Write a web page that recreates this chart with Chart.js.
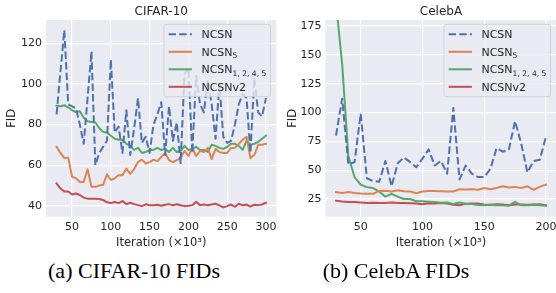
<!DOCTYPE html>
<html><head><meta charset="utf-8">
<script src="https://cdn.jsdelivr.net/npm/chart.js@4.4.1/dist/chart.umd.min.js"></script>
<style>
html,body{margin:0;padding:0;width:556px;height:293px;overflow:hidden;background:#fff;}
canvas{position:absolute;top:0;}
#c1{left:0;}
#c2{left:276px;}
.cap{position:absolute;top:260px;font-family:"Liberation Serif","Times New Roman",serif;font-size:22px;line-height:22px;color:#000;white-space:nowrap;transform:translateX(-50%);}
</style></head><body>
<canvas id="c1" width="280" height="250"></canvas>
<canvas id="c2" width="284" height="250"></canvas>
<div class="cap" style="left:134px">(a) CIFAR-10 FIDs</div>
<div class="cap" style="left:396px">(b) CelebA FIDs</div>
<script>
// ---------- data ----------
const cifarIter = [30,35,40,45,50,55,60,65,70,75,80,85,90,95,100,105,110,115,120,125,130,135,140,145,150,155,160,165,170,175,180,185,190,195,200,205,210,215,220,225,230,235,240,245,250,255,260,265,270,275,280,285,290,295,300];
const cifarNCSN = [85,106,126.5,90,89,88,80,70.5,93,116, 60,66,69,72,112,76,79,66,87,65, 78,93,71,74,66,80,85,91,65,89, 72,81,61,105,108,66,104,90,86,102, 90,73,100,74,71,72,80,90,95,93, 66,103,86,84,93];
const cifarNCSN5 = [69,66,63.5,63.7,54.3,53.5,51.7,51.7,58,49.4, 49.3,50,50.3,55.5,52.7,53.5,55,55,58.3,55.7, 58,61.5,62.7,60.8,61.5,62.7,62,64,66,62.5, 61.5,62.5,63.5,67,64.5,68.5,64.5,67,66.5,68.5, 63,68,66.5,66,66,68.5,68.5,70.5,72.5,74, 63.5,65,70,70,70.5];
const cifarNCSN1245 = [89.3,89,89.5,88.5,87,86.2,86.5,83.5,81.6,81.3, 81,78.3,76.4,76,74.5,73,72.5,72.5,70.5,69.5, 67.5,68.5,66,66.5,67.5,67.5,68.5,67.5,68,66.5, 68.5,66.5,67,69.5,67.5,68,69,67.5,67.5,66.5, 70,69.5,68.5,68,69,70.5,70.5,69.5,67.5,72, 70,70.5,71.5,73,74.5];
const cifarNCSNv2 = [51,48.5,47,47,45.5,46,45.3,44,43.5,43.5, 43.5,43.3,42.8,41.7,41.3,41.8,41.3,42.3,40.8,41.5, 40.8,40.3,39.8,40.7,40.2,40.2,40.5,40,40.5,40.8, 40.2,40.7,40.2,39.8,40,40.3,42,40.2,40.6,40.2, 40.6,41,40.2,39.2,39.8,40.6,39.5,41,40.2,40.6, 39.6,40.5,40.3,40.6,41.5];

const celebIter = [30,35,40,45,50,55,60,65,70,75,80,85,90,95,100,105,110,115,120,125,130,135,140,145,150,155,160,165,170,175,180,185,190,195,200];
const celebNCSN = [80,112,55,57,99,43,40.5,40,58,36, 56,61,57,52.5,60,68,54,58,47,104, 42,54,47,44,44,51,69,66,68,92.5, 73,48,58,59,79];
const celebNCSN5 = [31,30.3,31,30.3,29.8,29.6,29.5,32,32.2,31.5, 32.5,31.8,31.5,30,31.5,32,32,31.8,31.5,31.5, 33.5,33.3,33.5,33,34.5,33.5,34.5,36,35,35.5, 34.5,36,33,35.5,37.5];
const celebNCSN1245 = [195,142,62,44,37.5,35.3,34.5,31.5,27,29.5, 27,25,25,23,23,22.7,22.3,21.8,22,20.7, 22,20.8,20.7,19.8,19.6,20,19.5,19.5,19.2,22.5, 19.5,19.6,20,19.6,19.2];
const celebNCSNv2 = [23.5,22.8,22.5,22.5,22,21.5,21.8,21.5,21.5,22, 21.5,21.5,21.3,21,20.5,21.3,21.2,21.5,21,20, 19.5,20.8,21,21,20.3,20,20.5,20.3,19.5,20.3, 20.2,20,20.3,20.5,19.5];

const cifarXTicks = [50,100,150,200,250,300];
const cifarYTicks = [40,60,80,100,120];
const celebXTicks = [50,100,150,200];
const celebYTicks = [25,50,75,100,125,150,175];

const seriesLabels = ['NCSN','NCSN\u2085','NCSN\u2081,\u2082,\u2084,\u2085','NCSNv2'];
const legendBase = ['NCSN','NCSN','NCSN','NCSNv2'];
const legendSub = ['','5','1, 2, 4, 5',''];
const titles = ['CIFAR-10','CelebA'];
const xTitle = 'Iteration (\u00d710\u00b3)';
const yTitle = 'FID';

// ---------- style ----------
const colors = ['#4C72B0','#DD8452','#55A868','#C44E52'];
const dashes = [[7.4,3.2],[],[],[]];
const TXT = '#262626';
const FONT = "'DejaVu Sans', sans-serif";

const bgPlugin = {
  id: 'plotBg',
  beforeDraw(chart) {
    const {ctx, chartArea: a} = chart;
    ctx.save();
    ctx.fillStyle = '#EAEAF2';
    ctx.fillRect(a.left, a.top, a.right - a.left, a.bottom - a.top);
    ctx.restore();
  }
};

const legendPlugin = {
  id: 'boxLegend',
  afterDraw(chart) {
    const {ctx, chartArea: a} = chart;
    const w = 106.6, h = 72.4;
    const x0 = a.right - 5.9 - w, y0 = a.top + 4.3;
    ctx.save();
    ctx.beginPath();
    const r = 2.5;
    ctx.moveTo(x0 + r, y0);
    ctx.arcTo(x0 + w, y0, x0 + w, y0 + h, r);
    ctx.arcTo(x0 + w, y0 + h, x0, y0 + h, r);
    ctx.arcTo(x0, y0 + h, x0, y0, r);
    ctx.arcTo(x0, y0, x0 + w, y0, r);
    ctx.closePath();
    ctx.fillStyle = 'rgba(234,234,242,0.8)';
    ctx.fill();
    ctx.lineWidth = 1;
    ctx.strokeStyle = 'rgba(204,204,204,0.8)';
    ctx.stroke();
    chart.data.datasets.forEach((ds, i) => {
      const y = y0 + 10 + i * 17.5;
      ctx.beginPath();
      ctx.setLineDash(ds.borderDash || []);
      ctx.lineCap = 'butt';
      ctx.strokeStyle = ds.borderColor;
      ctx.lineWidth = ds.borderWidth;
      ctx.moveTo(x0 + 4.7, y);
      ctx.lineTo(x0 + 28, y);
      ctx.stroke();
      ctx.setLineDash([]);
      ctx.fillStyle = TXT;
      ctx.textBaseline = 'alphabetic';
      ctx.textAlign = 'left';
      ctx.font = "11px " + FONT;
      const tx = x0 + 37.5, ty = y + 4;
      ctx.fillText(legendBase[i], tx, ty);
      if (legendSub[i]) {
        const bw = ctx.measureText(legendBase[i]).width;
        ctx.font = "7.6px " + FONT;
        ctx.fillText(legendSub[i], tx + bw, ty + 2.4);
      }
    });
    ctx.restore();
  }
};

function makeChart(id, o) {
  const datasets = o.series.map((s, i) => ({
    label: seriesLabels[i],
    data: o.iters.map((x, j) => ({x: x, y: s[j]})),
    borderColor: colors[i],
    backgroundColor: colors[i],
    borderWidth: 2,
    borderDash: dashes[i],
    borderCapStyle: i === 0 ? 'butt' : 'square',
    borderJoinStyle: 'round',
    pointRadius: 0,
    pointHoverRadius: 0,
    tension: 0,
    fill: false
  }));
  return new Chart(document.getElementById(id), {
    type: 'line',
    data: {datasets},
    plugins: [bgPlugin, legendPlugin],
    options: {
      responsive: false,
      animation: false,
      devicePixelRatio: 1,
      events: [],
      layout: {padding: {left: 0, right: o.rightPad, top: 0, bottom: 0}},
      plugins: {
        legend: {display: false},
        tooltip: {enabled: false},
        title: {
          display: true, text: o.title, color: TXT, fullSize: false,
          font: {family: FONT, size: 12, weight: 'normal', lineHeight: 1.2},
          padding: {top: 5, bottom: 0.6}
        }
      },
      scales: {
        x: {
          type: 'linear', min: o.xmin, max: o.xmax,
          afterBuildTicks: s => { s.ticks = o.xticks.map(v => ({value: v})); },
          afterFit: s => { s.height = 33.3; },
          grid: {color: '#ffffff', lineWidth: 1.2, drawTicks: false},
          border: {display: false},
          ticks: {color: TXT, font: {family: FONT, size: 11}, padding: 3.4, maxRotation: 0, autoSkip: false},
          title: {display: true, text: xTitle, color: TXT, font: {family: FONT, size: 11.5, lineHeight: 1.2}, padding: {top: 0, bottom: 0.4}}
        },
        y: {
          type: 'linear', min: o.ymin, max: o.ymax,
          afterBuildTicks: s => { s.ticks = o.yticks.map(v => ({value: v})); },
          afterFit: s => { s.width = o.yWidth; },
          grid: {color: '#ffffff', lineWidth: 1.2, drawTicks: false},
          border: {display: false},
          ticks: {color: TXT, font: {family: FONT, size: 11}, padding: 4, autoSkip: false},
          title: {display: true, text: yTitle, color: TXT, font: {family: FONT, size: 11.5, lineHeight: 1.2}, padding: {top: o.yTitlePad, bottom: 0}}
        }
      }
    }
  });
}

makeChart('c1', {
  title: titles[0], iters: cifarIter,
  series: [cifarNCSN, cifarNCSN5, cifarNCSN1245, cifarNCSNv2],
  xmin: 16.5, xmax: 313.5, ymin: 34.6, ymax: 131.5,
  xticks: cifarXTicks, yticks: cifarYTicks,
  yWidth: 46.1, yTitlePad: 5.4, rightPad: 0.8
});
makeChart('c2', {
  title: titles[1], iters: celebIter,
  series: [celebNCSN, celebNCSN5, celebNCSN1245, celebNCSNv2],
  xmin: 21.5, xmax: 208.5, ymin: 9.65, ymax: 180.2,
  xticks: celebXTicks, yticks: celebYTicks,
  yWidth: 49.5, yTitlePad: 9.8, rightPad: 1.4
});
</script>
</body></html>
